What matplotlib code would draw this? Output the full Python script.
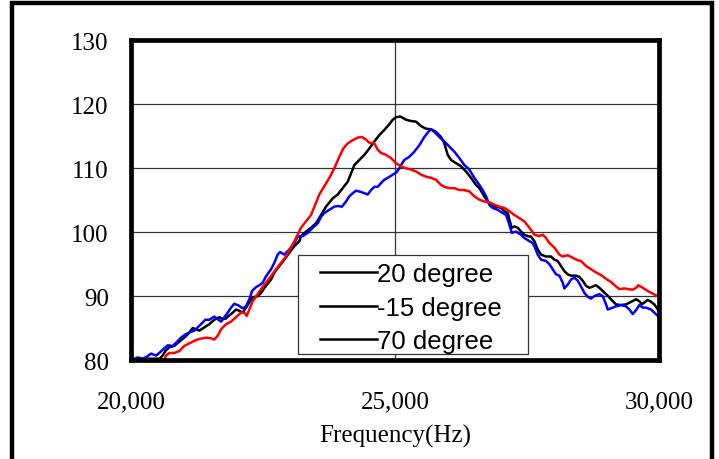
import numpy as np
import matplotlib
matplotlib.use('Agg')
import matplotlib.pyplot as plt
from matplotlib.lines import Line2D
from matplotlib.patches import Rectangle

# frequency (Hz) / level readings for each angle
freq_20 = [20000, 20300, 20540, 20600, 20650, 20725, 20820, 20903, 20979, 21074, 21169, 21231,
           21294, 21388, 21483, 21578, 21672, 21737, 21799, 21862, 21926, 21989, 22051, 22116,
           22178, 22241, 22305, 22400, 22462, 22557, 22652, 22714, 22809, 22903, 22998, 23093,
           23188, 23220, 23315, 23409, 23504, 23599, 23693, 23820, 23915, 24009, 24104, 24167,
           24229, 24324, 24419, 24513, 24608, 24703, 24797, 24892, 24957, 25020, 25101, 25209,
           25303, 25398, 25493, 25587, 25682, 25777, 25871, 25934, 25998, 26061, 26155, 26250,
           26345, 26440, 26534, 26597, 26691, 26756, 26818, 26913, 27008, 27070, 27135, 27165,
           27210, 27260, 27324, 27387, 27449, 27513, 27576, 27639, 27703, 27765, 27860, 27955,
           28017, 28081, 28144, 28207, 28271, 28334, 28428, 28491, 28555, 28618, 28680, 28745,
           28807, 28870, 28934, 28997, 29059, 29123, 29186, 29281, 29375, 29470, 29565, 29627,
           29673, 29722, 29786, 29849, 29911, 29976, 30000]
level_20 = [80.1, 80.2, 80.2, 80.7, 81.4, 82.0, 82.2, 82.8, 83.3, 84.0, 85.0, 84.8,
            84.6, 85.1, 85.6, 86.3, 86.7, 86.4, 86.5, 87.0, 87.4, 87.9, 87.7, 87.4,
            88.2, 89.0, 89.8, 90.0, 90.5, 91.6, 92.6, 93.7, 94.7, 95.7, 96.8, 97.8,
            98.6, 99.4, 100.1, 100.7, 101.4, 102.7, 104.0, 105.3, 105.9, 106.9, 107.9, 109.2,
            110.5, 111.3, 112.1, 113.1, 114.2, 115.2, 116.0, 116.9, 117.6, 118.0, 118.1, 117.6,
            117.4, 117.3, 116.6, 116.2, 116.1, 115.7, 114.9, 113.9, 112.1, 111.3, 110.8, 110.3,
            109.5, 108.5, 107.4, 106.9, 105.6, 104.8, 104.1, 104.0, 103.8, 103.3, 103.0, 102.0,
            100.7, 100.9, 100.7, 100.1, 99.6, 99.4, 99.3, 98.6, 97.3, 96.5, 96.2, 96.2,
            95.7, 95.5, 94.7, 93.9, 93.4, 93.2, 93.2, 93.0, 92.4, 91.6, 91.3, 91.5,
            91.7, 91.3, 90.8, 90.3, 89.8, 89.2, 88.7, 88.6, 88.7, 89.1, 89.5, 89.2,
            88.7, 89.0, 89.4, 89.1, 88.7, 87.9, 87.7]

freq_m15 = [20000, 20127, 20222, 20297, 20379, 20474, 20536, 20612, 20695, 20790, 20866, 20947,
            21028, 21104, 21199, 21263, 21326, 21407, 21483, 21578, 21642, 21705, 21767, 21831,
            21894, 21956, 22021, 22116, 22178, 22241, 22292, 22368, 22430, 22494, 22557, 22652,
            22714, 22778, 22822, 22903, 22998, 23093, 23157, 23252, 23347, 23441, 23536, 23599,
            23661, 23756, 23850, 23915, 23996, 24072, 24134, 24199, 24262, 24356, 24419, 24483,
            24546, 24608, 24672, 24735, 24797, 24862, 24957, 25019, 25082, 25114, 25176, 25271,
            25366, 25460, 25555, 25631, 25682, 25745, 25839, 25934, 26029, 26123, 26218, 26313,
            26407, 26502, 26597, 26661, 26724, 26786, 26851, 26945, 27040, 27103, 27165, 27210,
            27292, 27387, 27449, 27544, 27608, 27639, 27703, 27765, 27860, 27923, 27987, 28050,
            28112, 28176, 28207, 28271, 28334, 28396, 28461, 28523, 28586, 28650, 28712, 28775,
            28870, 28934, 28997, 29029, 29091, 29186, 29281, 29375, 29438, 29502, 29565, 29627,
            29692, 29754, 29849, 29911, 29976, 30000]
level_m15 = [80.0, 80.4, 80.2, 80.5, 81.0, 80.7, 81.1, 81.7, 82.3, 82.2, 82.8, 83.5,
             84.0, 84.3, 84.6, 85.1, 85.6, 86.3, 86.3, 86.8, 86.4, 86.0, 86.7, 87.4,
             88.2, 88.8, 88.6, 88.1, 88.4, 89.5, 90.8, 91.4, 91.7, 92.1, 93.1, 94.2,
             95.2, 96.5, 96.9, 96.5, 97.3, 98.3, 99.3, 99.4, 99.9, 100.7, 101.4, 102.4,
             103.0, 103.5, 104.0, 104.1, 104.0, 104.8, 105.6, 106.1, 106.5, 106.3, 106.1, 105.9,
             106.6, 107.1, 107.1, 107.7, 108.2, 108.5, 109.0, 109.3, 110.0, 110.5, 111.3, 111.8,
             112.6, 113.6, 114.9, 115.7, 116.1, 115.7, 114.9, 114.2, 113.4, 112.6, 111.6, 110.5,
             109.8, 108.5, 107.4, 106.6, 105.6, 104.3, 103.8, 103.5, 103.0, 102.7, 101.2, 99.9,
             100.1, 99.6, 99.1, 98.6, 98.3, 97.8, 96.5, 95.7, 95.5, 95.0, 94.2, 93.4,
             93.2, 92.1, 91.2, 91.8, 92.6, 92.9, 92.4, 91.5, 90.5, 89.9, 89.6, 90.0,
             90.3, 90.0, 88.7, 87.9, 88.1, 88.4, 88.6, 88.4, 87.9, 87.2, 87.8, 88.6,
             88.2, 88.2, 87.9, 87.4, 86.9, 86.5]

freq_70 = [20631, 20663, 20725, 20820, 20915, 21009, 21104, 21199, 21294, 21421, 21515, 21578,
           21642, 21705, 21799, 21894, 21989, 22083, 22146, 22191, 22241, 22305, 22400, 22462,
           22557, 22652, 22746, 22841, 22936, 23030, 23125, 23220, 23315, 23409, 23504, 23566,
           23661, 23756, 23850, 23945, 24021, 24104, 24199, 24294, 24375, 24451, 24513, 24608,
           24672, 24735, 24830, 24924, 25019, 25114, 25209, 25303, 25398, 25493, 25587, 25682,
           25777, 25871, 25934, 26029, 26123, 26218, 26313, 26407, 26502, 26597, 26691, 26786,
           26881, 26975, 27070, 27165, 27260, 27354, 27449, 27544, 27639, 27733, 27798, 27860,
           27923, 28017, 28112, 28176, 28271, 28366, 28461, 28523, 28618, 28712, 28807, 28902,
           28997, 29091, 29186, 29248, 29343, 29407, 29502, 29565, 29608, 29692, 29786, 29881,
           29943, 30000]
level_70 = [80.0, 80.7, 81.1, 81.1, 81.4, 82.2, 82.6, 83.0, 83.3, 83.5, 83.4, 83.2,
            83.8, 84.8, 85.6, 86.0, 86.7, 87.4, 87.4, 86.9, 87.9, 89.2, 90.3, 91.1,
            92.1, 93.1, 94.2, 95.2, 96.2, 97.6, 99.1, 100.7, 101.7, 102.7, 104.6, 105.9,
            107.2, 108.5, 110.0, 111.8, 113.1, 113.9, 114.4, 114.8, 114.9, 114.5, 114.0, 113.9,
            112.9, 112.4, 112.1, 111.6, 110.8, 110.3, 110.0, 109.8, 109.5, 109.0, 108.7, 108.5,
            108.2, 107.4, 107.1, 106.9, 106.9, 106.6, 106.6, 106.4, 105.6, 105.1, 104.8, 104.7,
            104.3, 104.0, 103.8, 103.3, 102.7, 102.2, 101.7, 100.7, 99.6, 99.4, 99.6, 99.1,
            98.3, 97.6, 96.5, 96.2, 96.4, 96.0, 95.6, 95.5, 94.7, 94.2, 93.7, 93.3,
            92.7, 92.2, 91.5, 91.1, 91.2, 91.1, 91.0, 91.3, 91.7, 91.3, 90.8, 90.4,
            90.1, 90.1]

labels = ['20 degree', '-15 degree', '70 degree']
x_ticks = [20000, 25000, 30000]
y_ticks = [80, 90, 100, 110, 120, 130]

fig = plt.figure(figsize=(7.19, 4.6), dpi=100)
ax = fig.add_axes([0.1822, 0.2152, 0.7344, 0.6946])

ax.plot(freq_20, level_20, color='black', lw=1.8, zorder=2)
ax.plot(freq_m15, level_m15, color='#0000ff', lw=1.8, zorder=2)
ax.plot(freq_70, level_70, color='#ff0000', lw=1.8, zorder=2)

ax.set_xlim(20000, 30000)
ax.set_ylim(80, 130)
ax.set_xticks(x_ticks)
ax.set_xticklabels(['{:,}'.format(t) for t in x_ticks])
ax.set_yticks(y_ticks)
ax.grid(True, color='#333333', lw=0.9, zorder=1)
ax.set_axisbelow(True)
for sp in ax.spines.values():
    sp.set_linewidth(3.4)
    sp.set_zorder(4)

serif = 'Liberation Serif'
ax.tick_params(axis='both', length=0, labelsize=18)
ax.tick_params(axis='y', pad=16)
ax.tick_params(axis='x', pad=22)
for lab in ax.get_xticklabels() + ax.get_yticklabels():
    lab.set_fontfamily(serif)
ax.set_xlabel('Frequency(Hz)', fontsize=18, fontfamily=serif, labelpad=8)

# legend box (original chart shows all legend lines in black)
box = Rectangle((0.3163, 0.0187), 0.4356, 0.3113, transform=ax.transAxes,
                facecolor='white', edgecolor='#333333', lw=0.9, zorder=3)
ax.add_patch(box)
handles = [Line2D([], [], color='black', lw=1.8) for _ in labels]
leg = ax.legend(handles, labels, loc='upper left', bbox_to_anchor=(0.358, 0.307),
                frameon=False, borderpad=0, borderaxespad=0, handlelength=2.2,
                handletextpad=0, labelspacing=0.38,
                prop={'family': 'Liberation Sans', 'size': 18.5})
leg.set_zorder(5)

# outer frame around the whole figure
fig.patches.append(Rectangle((0.0167, -0.05), 0.9736, 1.0413, transform=fig.transFigure,
                             fill=False, edgecolor='black', lw=3.2))

fig.savefig('out.png', dpi=100)
